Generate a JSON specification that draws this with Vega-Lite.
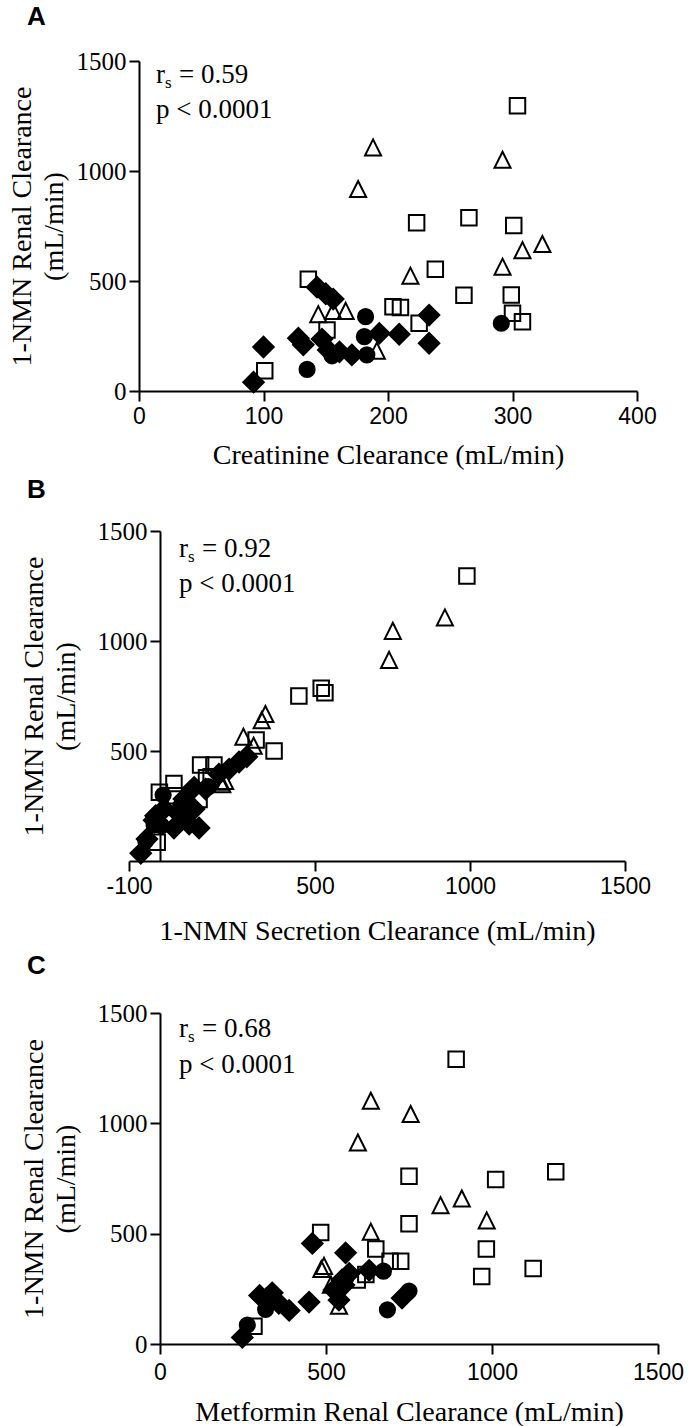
{
  "$schema": "https://vega.github.io/schema/vega-lite/v6.json",
  "padding": {"left": 8, "top": 4, "right": 0, "bottom": 0},
  "background": "white",
  "spacing": 8,
  "config": {
    "view": {"stroke": null},
    "font": "Liberation Serif",
    "axis": {"domainColor": "black", "tickColor": "black", "domainWidth": 2, "tickWidth": 2, "tickSize": 10, "grid": false, "labelColor": "black", "titleColor": "black", "titleFontWeight": "normal", "labelFlush": false, "labelOverlap": false, "labelExpr": "'' + datum.value"},
    "axisX": {"labelFont": "Liberation Sans", "labelFontSize": 23, "labelPadding": 4, "titleFont": "Liberation Serif", "titleFontSize": 28, "titlePadding": 13},
    "axisY": {"labelFont": "Liberation Serif", "labelFontSize": 25, "labelPadding": 3, "titleFont": "Liberation Serif", "titleFontSize": 28, "titleLineHeight": 32, "titlePadding": 8},
    "title": {"font": "Liberation Sans", "fontSize": 26, "fontWeight": "bold", "anchor": "start", "frame": "group", "color": "black", "dx": -102, "offset": 22}
  },
  "datasets": {
    "stats": [
      {"panel": "A", "r": "r", "s": "s", "eq": "= 0.59", "p": "p < 0.0001"},
      {"panel": "B", "r": "r", "s": "s", "eq": "= 0.92", "p": "p < 0.0001"},
      {"panel": "C", "r": "r", "s": "s", "eq": "= 0.68", "p": "p < 0.0001"}
    ],
    "a": [
      {"g": "g3", "x": 101, "y": 92}, {"g": "g3", "x": 136, "y": 508}, {"g": "g3", "x": 151, "y": 277}, {"g": "g3", "x": 204, "y": 383}, {"g": "g3", "x": 210, "y": 380},
      {"g": "g3", "x": 225, "y": 308}, {"g": "g3", "x": 238, "y": 553}, {"g": "g3", "x": 223, "y": 765}, {"g": "g3", "x": 265, "y": 788}, {"g": "g3", "x": 301, "y": 752},
      {"g": "g3", "x": 261, "y": 435}, {"g": "g3", "x": 299, "y": 436}, {"g": "g3", "x": 300, "y": 353}, {"g": "g3", "x": 308, "y": 315}, {"g": "g3", "x": 304, "y": 1297},
      {"g": "g4", "x": 144, "y": 345}, {"g": "g4", "x": 156, "y": 360}, {"g": "g4", "x": 166, "y": 360}, {"g": "g4", "x": 191, "y": 179}, {"g": "g4", "x": 218, "y": 520},
      {"g": "g4", "x": 176, "y": 914}, {"g": "g4", "x": 188, "y": 1103}, {"g": "g4", "x": 292, "y": 1047}, {"g": "g4", "x": 292, "y": 561}, {"g": "g4", "x": 308, "y": 636}, {"g": "g4", "x": 324, "y": 664},
      {"g": "g1", "x": 92, "y": 40}, {"g": "g1", "x": 100, "y": 200}, {"g": "g1", "x": 128, "y": 240}, {"g": "g1", "x": 132, "y": 210}, {"g": "g1", "x": 143, "y": 472},
      {"g": "g1", "x": 150, "y": 442}, {"g": "g1", "x": 156, "y": 418}, {"g": "g1", "x": 147, "y": 236}, {"g": "g1", "x": 152, "y": 186}, {"g": "g1", "x": 161, "y": 178},
      {"g": "g1", "x": 171, "y": 164}, {"g": "g1", "x": 193, "y": 262}, {"g": "g1", "x": 209, "y": 258}, {"g": "g1", "x": 233, "y": 345}, {"g": "g1", "x": 233, "y": 217},
      {"g": "g2", "x": 135, "y": 98}, {"g": "g2", "x": 155, "y": 160}, {"g": "g2", "x": 182, "y": 338}, {"g": "g2", "x": 181, "y": 247}, {"g": "g2", "x": 183, "y": 164}, {"g": "g2", "x": 291, "y": 308}
    ],
    "b": [
      {"g": "g3", "x": 990, "y": 1295}, {"g": "g3", "x": 368, "y": 500}, {"g": "g3", "x": 126, "y": 280}, {"g": "g3", "x": 165, "y": 383}, {"g": "g3", "x": 150, "y": 378},
      {"g": "g3", "x": 51, "y": 297}, {"g": "g3", "x": 310, "y": 550}, {"g": "g3", "x": 532, "y": 765}, {"g": "g3", "x": 520, "y": 785}, {"g": "g3", "x": 448, "y": 750},
      {"g": "g3", "x": 174, "y": 436}, {"g": "g3", "x": 131, "y": 436}, {"g": "g3", "x": 45, "y": 352}, {"g": "g3", "x": -2, "y": 312}, {"g": "g3", "x": -9, "y": 85},
      {"g": "g4", "x": 201, "y": 345}, {"g": "g4", "x": 210, "y": 360}, {"g": "g4", "x": 194, "y": 356}, {"g": "g4", "x": -12, "y": 179}, {"g": "g4", "x": 302, "y": 520},
      {"g": "g4", "x": 739, "y": 910}, {"g": "g4", "x": 919, "y": 1103}, {"g": "g4", "x": 751, "y": 1042}, {"g": "g4", "x": 269, "y": 561}, {"g": "g4", "x": 328, "y": 636}, {"g": "g4", "x": 340, "y": 664},
      {"g": "g1", "x": -62, "y": 35}, {"g": "g1", "x": -42, "y": 100}, {"g": "g1", "x": -14, "y": 206}, {"g": "g1", "x": -19, "y": 185}, {"g": "g1", "x": 13, "y": 236},
      {"g": "g1", "x": 61, "y": 214}, {"g": "g1", "x": 45, "y": 150}, {"g": "g1", "x": 94, "y": 168}, {"g": "g1", "x": 126, "y": 150}, {"g": "g1", "x": 110, "y": 236},
      {"g": "g1", "x": 77, "y": 282}, {"g": "g1", "x": 110, "y": 335}, {"g": "g1", "x": 147, "y": 327}, {"g": "g1", "x": 190, "y": 395}, {"g": "g1", "x": 223, "y": 418},
      {"g": "g1", "x": 255, "y": 450}, {"g": "g1", "x": 280, "y": 474},
      {"g": "g2", "x": 10, "y": 300}, {"g": "g2", "x": -46, "y": 92}, {"g": "g2", "x": 156, "y": 338}, {"g": "g2", "x": 66, "y": 247}, {"g": "g2", "x": -19, "y": 164}, {"g": "g2", "x": 5, "y": 160}
    ],
    "c": [
      {"g": "g3", "x": 283, "y": 80}, {"g": "g3", "x": 484, "y": 505}, {"g": "g3", "x": 594, "y": 290}, {"g": "g3", "x": 693, "y": 375}, {"g": "g3", "x": 725, "y": 375},
      {"g": "g3", "x": 620, "y": 315}, {"g": "g3", "x": 750, "y": 545}, {"g": "g3", "x": 750, "y": 760}, {"g": "g3", "x": 1192, "y": 781}, {"g": "g3", "x": 1011, "y": 745},
      {"g": "g3", "x": 650, "y": 430}, {"g": "g3", "x": 983, "y": 430}, {"g": "g3", "x": 1124, "y": 342}, {"g": "g3", "x": 969, "y": 306}, {"g": "g3", "x": 892, "y": 1290},
      {"g": "g4", "x": 494, "y": 350}, {"g": "g4", "x": 486, "y": 336}, {"g": "g4", "x": 515, "y": 265}, {"g": "g4", "x": 539, "y": 169}, {"g": "g4", "x": 635, "y": 505},
      {"g": "g4", "x": 596, "y": 909}, {"g": "g4", "x": 635, "y": 1098}, {"g": "g4", "x": 755, "y": 1038}, {"g": "g4", "x": 984, "y": 556}, {"g": "g4", "x": 845, "y": 625}, {"g": "g4", "x": 909, "y": 655},
      {"g": "g1", "x": 248, "y": 30}, {"g": "g1", "x": 300, "y": 220}, {"g": "g1", "x": 320, "y": 205}, {"g": "g1", "x": 338, "y": 232}, {"g": "g1", "x": 358, "y": 184},
      {"g": "g1", "x": 389, "y": 152}, {"g": "g1", "x": 449, "y": 190}, {"g": "g1", "x": 459, "y": 456}, {"g": "g1", "x": 559, "y": 413}, {"g": "g1", "x": 630, "y": 334},
      {"g": "g1", "x": 729, "y": 208}, {"g": "g1", "x": 524, "y": 245}, {"g": "g1", "x": 548, "y": 290}, {"g": "g1", "x": 539, "y": 199}, {"g": "g1", "x": 554, "y": 267}, {"g": "g1", "x": 570, "y": 320},
      {"g": "g2", "x": 263, "y": 86}, {"g": "g2", "x": 318, "y": 157}, {"g": "g2", "x": 673, "y": 330}, {"g": "g2", "x": 685, "y": 155}, {"g": "g2", "x": 750, "y": 240}, {"g": "g2", "x": 560, "y": 300}
    ]
  },
  "vconcat": [
    {
      "title": {"text": "A", "offset": 19},
      "width": 508, "height": 330,
      "layer": [
        {
          "data": {"name": "a"},
          "mark": {"type": "point", "filled": true, "stroke": "black", "strokeWidth": 2, "opacity": 1},
          "encoding": {
            "x": {"field": "x", "type": "quantitative", "scale": {"domain": [0, 400], "range": [10, 508], "nice": false},
                  "axis": {"values": [0, 100, 200, 300, 400], "labelFont": "Liberation Sans", "title": "Creatinine Clearance (mL/min)"}},
            "y": {"field": "y", "type": "quantitative", "scale": {"domain": [0, 1500], "nice": false},
                  "axis": {"values": [0, 500, 1000, 1500], "offset": -10, "labelFont": "Liberation Serif", "labelFontSize": 25, "title": ["1-NMN Renal Clearance", "(mL/min)"]}},
            "shape": {"field": "g", "type": "nominal", "legend": null, "scale": {"domain": ["g1", "g2", "g3", "g4"], "range": ["diamond", "circle", "square", "M0,-1L0.9,0.8L-0.9,0.8Z"]}},
            "fill": {"field": "g", "type": "nominal", "legend": null, "scale": {"domain": ["g1", "g2", "g3", "g4"], "range": ["black", "black", "transparent", "transparent"]}},
            "size": {"field": "g", "type": "nominal", "legend": null, "scale": {"type": "ordinal", "domain": ["g1", "g2", "g3", "g4"], "range": [420, 230, 240, 320]}}
          }
        },
        {
          "data": {"name": "stats"}, "transform": [{"filter": "datum.panel == 'A'"}],
          "mark": {"type": "text", "align": "left", "baseline": "alphabetic", "fontSize": 27, "font": "Liberation Serif", "color": "black"},
          "encoding": {"x": {"datum": 13.7}, "y": {"datum": 1400}, "text": {"field": "r"}}
        },
        {
          "data": {"name": "stats"}, "transform": [{"filter": "datum.panel == 'A'"}],
          "mark": {"type": "text", "align": "left", "baseline": "alphabetic", "fontSize": 17, "font": "Liberation Serif", "color": "black", "dx": 9, "dy": 5},
          "encoding": {"x": {"datum": 13.7}, "y": {"datum": 1400}, "text": {"field": "s"}}
        },
        {
          "data": {"name": "stats"}, "transform": [{"filter": "datum.panel == 'A'"}],
          "mark": {"type": "text", "align": "left", "baseline": "alphabetic", "fontSize": 27, "font": "Liberation Serif", "color": "black", "dx": 23},
          "encoding": {"x": {"datum": 13.7}, "y": {"datum": 1400}, "text": {"field": "eq"}}
        },
        {
          "data": {"name": "stats"}, "transform": [{"filter": "datum.panel == 'A'"}],
          "mark": {"type": "text", "align": "left", "baseline": "alphabetic", "fontSize": 27, "font": "Liberation Serif", "color": "black"},
          "encoding": {"x": {"datum": 13.7}, "y": {"datum": 1241}, "text": {"field": "p"}}
        }
      ]
    },
    {
      "title": {"text": "B", "offset": 16},
      "width": 496, "height": 330,
      "layer": [
        {
          "data": {"name": "b"},
          "mark": {"type": "point", "filled": true, "stroke": "black", "strokeWidth": 2, "opacity": 1},
          "encoding": {
            "x": {"field": "x", "type": "quantitative", "scale": {"domain": [-100, 1500], "nice": false},
                  "axis": {"values": [-100, 500, 1000, 1500], "labelFont": "Liberation Sans", "titlePadding": 19, "title": "1-NMN Secretion Clearance (mL/min)"}},
            "y": {"field": "y", "type": "quantitative", "scale": {"domain": [0, 1500], "nice": false},
                  "axis": {"values": [500, 1000, 1500], "offset": -31, "titlePadding": 17, "labelFont": "Liberation Serif", "labelFontSize": 25, "title": ["1-NMN Renal Clearance", "(mL/min)"]}},
            "shape": {"field": "g", "type": "nominal", "legend": null, "scale": {"domain": ["g1", "g2", "g3", "g4"], "range": ["diamond", "circle", "square", "M0,-1L0.9,0.8L-0.9,0.8Z"]}},
            "fill": {"field": "g", "type": "nominal", "legend": null, "scale": {"domain": ["g1", "g2", "g3", "g4"], "range": ["black", "black", "transparent", "transparent"]}},
            "size": {"field": "g", "type": "nominal", "legend": null, "scale": {"type": "ordinal", "domain": ["g1", "g2", "g3", "g4"], "range": [420, 230, 240, 320]}}
          }
        },
        {
          "data": {"name": "stats"}, "transform": [{"filter": "datum.panel == 'B'"}],
          "mark": {"type": "text", "align": "left", "baseline": "alphabetic", "fontSize": 27, "font": "Liberation Serif", "color": "black"},
          "encoding": {"x": {"datum": 61}, "y": {"datum": 1382}, "text": {"field": "r"}}
        },
        {
          "data": {"name": "stats"}, "transform": [{"filter": "datum.panel == 'B'"}],
          "mark": {"type": "text", "align": "left", "baseline": "alphabetic", "fontSize": 17, "font": "Liberation Serif", "color": "black", "dx": 9, "dy": 5},
          "encoding": {"x": {"datum": 61}, "y": {"datum": 1382}, "text": {"field": "s"}}
        },
        {
          "data": {"name": "stats"}, "transform": [{"filter": "datum.panel == 'B'"}],
          "mark": {"type": "text", "align": "left", "baseline": "alphabetic", "fontSize": 27, "font": "Liberation Serif", "color": "black", "dx": 23},
          "encoding": {"x": {"datum": 61}, "y": {"datum": 1382}, "text": {"field": "eq"}}
        },
        {
          "data": {"name": "stats"}, "transform": [{"filter": "datum.panel == 'B'"}],
          "mark": {"type": "text", "align": "left", "baseline": "alphabetic", "fontSize": 27, "font": "Liberation Serif", "color": "black"},
          "encoding": {"x": {"datum": 61}, "y": {"datum": 1223}, "text": {"field": "p"}}
        }
      ]
    },
    {
      "title": {"text": "C", "offset": 22},
      "width": 529, "height": 331,
      "layer": [
        {
          "data": {"name": "c"},
          "mark": {"type": "point", "filled": true, "stroke": "black", "strokeWidth": 2, "opacity": 1},
          "encoding": {
            "x": {"field": "x", "type": "quantitative", "scale": {"domain": [0, 1500], "range": [31, 529], "nice": false},
                  "axis": {"values": [0, 500, 1000, 1500], "labelFont": "Liberation Sans", "labelPadding": 7, "titlePadding": 14, "title": "Metformin Renal Clearance (mL/min)"}},
            "y": {"field": "y", "type": "quantitative", "scale": {"domain": [0, 1500], "nice": false},
                  "axis": {"values": [0, 500, 1000, 1500], "offset": -31, "titlePadding": 17, "labelFont": "Liberation Serif", "labelFontSize": 25, "title": ["1-NMN Renal Clearance", "(mL/min)"]}},
            "shape": {"field": "g", "type": "nominal", "legend": null, "scale": {"domain": ["g1", "g2", "g3", "g4"], "range": ["diamond", "circle", "square", "M0,-1L0.9,0.8L-0.9,0.8Z"]}},
            "fill": {"field": "g", "type": "nominal", "legend": null, "scale": {"domain": ["g1", "g2", "g3", "g4"], "range": ["black", "black", "transparent", "transparent"]}},
            "size": {"field": "g", "type": "nominal", "legend": null, "scale": {"type": "ordinal", "domain": ["g1", "g2", "g3", "g4"], "range": [420, 230, 240, 320]}}
          }
        },
        {
          "data": {"name": "stats"}, "transform": [{"filter": "datum.panel == 'C'"}],
          "mark": {"type": "text", "align": "left", "baseline": "alphabetic", "fontSize": 27, "font": "Liberation Serif", "color": "black"},
          "encoding": {"x": {"datum": 57}, "y": {"datum": 1391}, "text": {"field": "r"}}
        },
        {
          "data": {"name": "stats"}, "transform": [{"filter": "datum.panel == 'C'"}],
          "mark": {"type": "text", "align": "left", "baseline": "alphabetic", "fontSize": 17, "font": "Liberation Serif", "color": "black", "dx": 9, "dy": 5},
          "encoding": {"x": {"datum": 57}, "y": {"datum": 1391}, "text": {"field": "s"}}
        },
        {
          "data": {"name": "stats"}, "transform": [{"filter": "datum.panel == 'C'"}],
          "mark": {"type": "text", "align": "left", "baseline": "alphabetic", "fontSize": 27, "font": "Liberation Serif", "color": "black", "dx": 23},
          "encoding": {"x": {"datum": 57}, "y": {"datum": 1391}, "text": {"field": "eq"}}
        },
        {
          "data": {"name": "stats"}, "transform": [{"filter": "datum.panel == 'C'"}],
          "mark": {"type": "text", "align": "left", "baseline": "alphabetic", "fontSize": 27, "font": "Liberation Serif", "color": "black"},
          "encoding": {"x": {"datum": 57}, "y": {"datum": 1228}, "text": {"field": "p"}}
        }
      ]
    }
  ]
}
